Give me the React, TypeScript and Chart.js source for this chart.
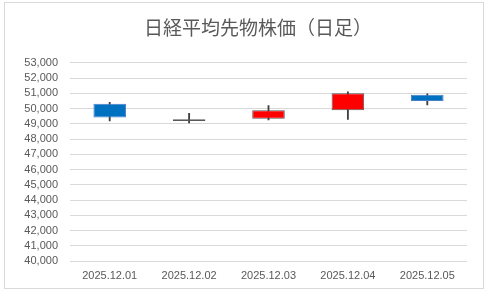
import React, { useEffect, useRef } from "react";
import { Chart, registerables } from "chart.js";

Chart.register(...registerables);

const dates = ["2025.12.01", "2025.12.02", "2025.12.03", "2025.12.04", "2025.12.05"];
const openValues = [50310, 49190, 49330, 49890, 50900];
const highValues = [50410, 49690, 50200, 51090, 50960];
const lowValues = [49190, 49060, 49250, 49280, 50240];
const closeValues = [49410, 49290, 49890, 51000, 50500];
const yMin = 40000;
const yMax = 53000;
const yStep = 1000;
const titleText = "日経平均先物株価（日足）";

const UP_FILL = "#FF0000";
const UP_BORDER = "#595959";
const DOWN_FILL = "#0070C0";
const DOWN_BORDER = "#4A7EC8";
const TEXT = "#595959";
const GRID = "#D9D9D9";

const titleShift = {
  id: "titleShift",
  afterLayout(chart: any) {
    const t = chart.titleBlock;
    if (t) {
      t.left += 44;
    }
  },
};

export default function App() {
  const ref = useRef<HTMLCanvasElement | null>(null);

  useEffect(() => {
    document.body.style.margin = "0";
    const canvas = ref.current;
    if (!canvas) return;
    const up = openValues.map((o, i) => closeValues[i] >= o);
    const chart = new Chart(canvas, {
      type: "bar",
      data: {
        labels: dates,
        datasets: [
          {
            label: "wick",
            data: dates.map((_, i) => [lowValues[i], highValues[i]]) as any,
            backgroundColor: "#404040",
            barThickness: 1.2,
            grouped: false,
            order: 2,
          },
          {
            label: "body",
            data: dates.map((_, i) => [openValues[i], closeValues[i]]) as any,
            backgroundColor: up.map((u) => (u ? UP_FILL : DOWN_FILL)),
            borderColor: up.map((u) => (u ? UP_BORDER : DOWN_BORDER)),
            borderWidth: 1,
            borderSkipped: false,
            categoryPercentage: 1,
            barPercentage: 0.41,
            grouped: false,
            order: 1,
          },
        ],
      },
      options: {
        animation: false,
        responsive: false,
        maintainAspectRatio: false,
        layout: { padding: { left: 0, right: 16, top: 0, bottom: 6 } },
        plugins: {
          legend: { display: false },
          tooltip: { enabled: false },
          title: {
            display: true,
            text: titleText,
            color: TEXT,
            font: { family: "'Noto Sans CJK JP'", size: 19, weight: "normal", lineHeight: 1.2 },
            padding: { top: 13, bottom: 24 },
          },
        },
        scales: {
          x: {
            afterFit(scale: any) {
              scale.height = 21;
            },
            grid: { display: false, drawTicks: false },
            border: { display: false },
            ticks: {
              color: TEXT,
              padding: 8,
              font: { family: "'Liberation Sans'", size: 11 },
              maxRotation: 0,
            },
          },
          y: {
            min: yMin,
            max: yMax,
            afterFit(scale: any) {
              scale.width = 65;
            },
            grid: { color: GRID, drawTicks: false, lineWidth: 1 },
            border: { display: false },
            ticks: {
              stepSize: yStep,
              autoSkip: false,
              color: TEXT,
              padding: 12,
              font: { family: "'Liberation Sans'", size: 11 },
              callback: (v: any) => Number(v).toLocaleString("en-US"),
            },
          },
        },
      },
      plugins: [titleShift],
    });
    return () => chart.destroy();
  }, []);

  return (
    <div style={{ position: "relative", width: 487, height: 293, background: "#fff" }}>
      <div
        style={{
          position: "absolute",
          left: 4,
          top: 2,
          width: 478,
          height: 285,
          border: "1px solid #D9D9D9",
          background: "#fff",
        }}
      >
        <canvas ref={ref} width={478} height={285} style={{ display: "block" }} />
      </div>
    </div>
  );
}
